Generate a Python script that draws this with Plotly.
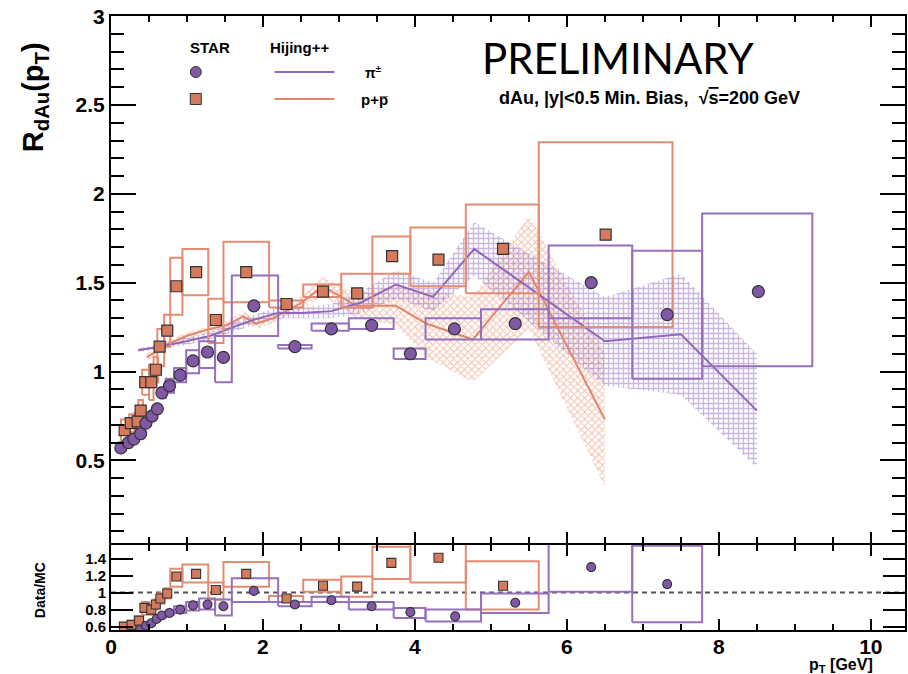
import plotly.graph_objects as go

# ---------------- data ----------------
# STAR pions, main panel
pi_pt   = [0.13, 0.23, 0.30, 0.39, 0.46, 0.54, 0.61, 0.67, 0.77, 0.91, 1.08, 1.27, 1.48, 1.88, 2.42, 2.90, 3.43, 3.94, 4.52, 5.32, 6.32, 7.32, 8.52]
pi_R    = [0.57, 0.60, 0.62, 0.65, 0.71, 0.75, 0.79, 0.88, 0.92, 0.98, 1.06, 1.11, 1.08, 1.37, 1.14, 1.24, 1.26, 1.10, 1.24, 1.27, 1.50, 1.32, 1.45]
pi_binlo = [0.10, 0.19, 0.27, 0.35, 0.43, 0.50, 0.58, 0.64, 0.72, 0.83, 0.99, 1.16, 1.37, 1.59, 2.20, 2.64, 3.13, 3.72, 4.14, 4.87, 5.76, 6.86, 7.78]
pi_binhi = [0.17, 0.27, 0.34, 0.43, 0.50, 0.58, 0.64, 0.72, 0.83, 0.99, 1.16, 1.37, 1.59, 2.20, 2.64, 3.13, 3.72, 4.14, 4.87, 5.76, 6.86, 7.78, 9.23]
pi_syslo = [0.55, 0.58, 0.60, 0.63, 0.69, 0.73, 0.77, 0.85, 0.88, 0.94, 0.99, 1.02, 0.94, 1.20, 1.13, 1.23, 1.24, 1.07, 1.18, 1.18, 1.30, 0.96, 1.03]
pi_syshi = [0.59, 0.62, 0.64, 0.67, 0.73, 0.77, 0.81, 0.91, 0.96, 1.02, 1.12, 1.17, 1.20, 1.54, 1.15, 1.27, 1.30, 1.13, 1.30, 1.35, 1.71, 1.68, 1.89]

# STAR protons, main panel
p_pt    = [0.18, 0.26, 0.35, 0.39, 0.45, 0.53, 0.59, 0.64, 0.74, 0.86, 1.12, 1.38, 1.78, 2.31, 2.79, 3.24, 3.70, 4.31, 5.16, 6.51]
p_R     = [0.67, 0.71, 0.72, 0.78, 0.94, 0.94, 1.01, 1.14, 1.23, 1.48, 1.56, 1.29, 1.56, 1.38, 1.45, 1.44, 1.65, 1.63, 1.69, 1.77]
p_binlo = [0.13, 0.24, 0.31, 0.36, 0.41, 0.50, 0.56, 0.61, 0.70, 0.78, 0.94, 1.28, 1.48, 2.08, 2.53, 3.03, 3.44, 3.94, 4.67, 5.63]
p_binhi = [0.24, 0.31, 0.36, 0.42, 0.50, 0.56, 0.62, 0.70, 0.78, 0.94, 1.28, 1.48, 2.08, 2.53, 3.03, 3.44, 3.94, 4.67, 5.63, 7.39]
p_syslo = [0.61, 0.66, 0.67, 0.72, 0.87, 0.84, 0.94, 1.03, 1.14, 1.32, 1.43, 1.16, 1.39, 1.36, 1.42, 1.36, 1.55, 1.48, 1.44, 1.25]
p_syshi = [0.73, 0.76, 0.77, 0.84, 1.01, 1.04, 1.08, 1.24, 1.32, 1.64, 1.69, 1.41, 1.73, 1.40, 1.49, 1.55, 1.76, 1.81, 1.94, 2.29]

# Hijing++ curves with uncertainty bands
mc_pi_pt = [0.36, 0.64, 0.99, 1.30, 1.61, 1.87, 2.20, 2.50, 2.90, 3.30, 3.75, 4.24, 4.78, 6.50, 7.50, 8.50]
mc_pi_R  = [1.12, 1.14, 1.17, 1.20, 1.25, 1.29, 1.33, 1.33, 1.34, 1.39, 1.49, 1.42, 1.69, 1.17, 1.21, 0.78]
mc_pi_err = [0.01, 0.015, 0.02, 0.02, 0.025, 0.03, 0.03, 0.03, 0.04, 0.06, 0.08, 0.08, 0.15, 0.25, 0.34, 0.32]

mc_p_pt = [0.47, 0.73, 0.99, 1.30, 1.52, 1.74, 1.91, 2.13, 2.48, 2.79, 3.23, 3.75, 4.15, 4.76, 5.50, 6.50]
mc_p_R  = [1.08, 1.15, 1.20, 1.24, 1.26, 1.31, 1.27, 1.30, 1.38, 1.48, 1.37, 1.37, 1.27, 1.18, 1.56, 0.73]
mc_p_err = [0.02, 0.02, 0.02, 0.02, 0.025, 0.03, 0.03, 0.03, 0.04, 0.05, 0.07, 0.11, 0.19, 0.24, 0.32, 0.38]

# Data / MC ratio panel
rp_pt    = [0.17, 0.27, 0.37, 0.44, 0.53, 0.59, 0.65, 0.74, 0.86, 1.12, 1.38, 1.78, 2.31, 2.79, 3.24, 3.69, 4.31, 5.16]
rp_val   = [0.60, 0.62, 0.67, 0.82, 0.80, 0.86, 0.93, 0.99, 1.19, 1.22, 1.03, 1.22, 0.93, 1.08, 1.07, 1.35, 1.41, 1.08]
rp_binlo = [0.13, 0.24, 0.31, 0.41, 0.50, 0.56, 0.61, 0.70, 0.78, 0.94, 1.28, 1.48, 2.08, 2.53, 3.03, 3.44, 3.94, 4.67]
rp_binhi = [0.24, 0.31, 0.42, 0.50, 0.56, 0.62, 0.70, 0.78, 0.94, 1.28, 1.48, 2.08, 2.53, 3.03, 3.44, 3.94, 4.67, 5.63]
rp_syslo = [0.56, 0.58, 0.62, 0.74, 0.74, 0.80, 0.87, 0.93, 1.07, 1.12, 0.92, 1.07, 0.89, 1.01, 0.95, 1.16, 1.12, 0.80]
rp_syshi = [0.64, 0.66, 0.72, 0.89, 0.86, 0.92, 0.99, 1.05, 1.28, 1.33, 1.12, 1.36, 0.96, 1.15, 1.19, 1.54, 1.70, 1.37]

rpi_pt    = [0.38, 0.46, 0.53, 0.60, 0.67, 0.77, 0.91, 1.08, 1.27, 1.48, 1.88, 2.42, 2.90, 3.43, 3.94, 4.53, 5.32, 6.32, 7.32]
rpi_val   = [0.56, 0.61, 0.64, 0.69, 0.73, 0.76, 0.80, 0.85, 0.86, 0.84, 1.02, 0.86, 0.91, 0.84, 0.77, 0.72, 0.88, 1.30, 1.10]
rpi_binlo = [0.35, 0.43, 0.50, 0.58, 0.64, 0.72, 0.83, 0.99, 1.16, 1.37, 1.59, 2.20, 2.64, 3.13, 3.72, 4.14, 4.87, 5.76, 6.86]
rpi_binhi = [0.43, 0.50, 0.58, 0.64, 0.72, 0.83, 0.99, 1.16, 1.37, 1.59, 2.20, 2.64, 3.13, 3.72, 4.14, 4.87, 5.76, 6.86, 7.78]
rpi_syslo = [0.54, 0.59, 0.62, 0.67, 0.71, 0.74, 0.76, 0.79, 0.80, 0.73, 0.89, 0.84, 0.89, 0.80, 0.70, 0.66, 0.76, 1.01, 0.65]
rpi_syshi = [0.58, 0.63, 0.66, 0.71, 0.75, 0.79, 0.84, 0.89, 0.93, 0.92, 1.17, 0.89, 0.95, 0.89, 0.82, 0.80, 0.99, 1.59, 1.55]

x_ticks = [0, 2, 4, 6, 8, 10]
ratio_ticks = [0.6, 0.8, 1.0, 1.2, 1.4]
ratio_ticktext = ["0.6", "0.8", "1", "1.2", "1.4"]

# ---------------- style ----------------
PURPLE_M = "#8058A5"
PURPLE_L = "#9670BE"
ORANGE_M = "#D67A5E"
ORANGE_L = "#E38C72"
FONT = "Liberation Sans, Arial, sans-serif"

W, H = 908, 674
L, R, T, B = 111, 1, 16, 44
PW, PH = W - L - R, H - T - B


def px(xp):
    return (xp - L) / PW


def py(yp):
    return (H - B - yp) / PH


def boxes(blo, bhi, ylo, yhi):
    xs, ys = [], []
    for a, b, c, d in zip(blo, bhi, ylo, yhi):
        xs += [a, b, b, a, a, None]
        ys += [c, c, d, d, c, None]
    return xs, ys


def band(x, v, e):
    up = [a + b for a, b in zip(v, e)]
    lo = [a - b for a, b in zip(v, e)]
    return list(x) + list(x)[::-1], up + lo[::-1]


fig = go.Figure()

# bands
bx, by = band(mc_p_pt, mc_p_R, mc_p_err)
fig.add_trace(go.Scatter(x=bx, y=by, xaxis="x2", yaxis="y2", mode="lines", fill="toself",
                         line=dict(width=0), fillcolor="rgba(0,0,0,0)",
                         fillpattern=dict(shape="x", fgcolor="#E8906F", bgcolor="rgba(0,0,0,0)",
                                          size=5, solidity=0.4),
                         hoverinfo="skip", showlegend=False))
bx, by = band(mc_pi_pt, mc_pi_R, mc_pi_err)
fig.add_trace(go.Scatter(x=bx, y=by, xaxis="x2", yaxis="y2", mode="lines", fill="toself",
                         line=dict(width=0), fillcolor="rgba(0,0,0,0)",
                         fillpattern=dict(shape="+", fgcolor="#9570C0", bgcolor="rgba(0,0,0,0)",
                                          size=5, solidity=0.45),
                         hoverinfo="skip", showlegend=False))

# MC lines
fig.add_trace(go.Scatter(x=mc_p_pt, y=mc_p_R, xaxis="x2", yaxis="y2", mode="lines",
                         line=dict(color="#E0866A", width=2), showlegend=False))
fig.add_trace(go.Scatter(x=mc_pi_pt, y=mc_pi_R, xaxis="x2", yaxis="y2", mode="lines",
                         line=dict(color="#9066BA", width=2), showlegend=False))

# systematic boxes main
bx, by = boxes(p_binlo, p_binhi, p_syslo, p_syshi)
fig.add_trace(go.Scatter(x=bx, y=by, xaxis="x2", yaxis="y2", mode="lines",
                         line=dict(color=ORANGE_L, width=2), showlegend=False))
bx, by = boxes(pi_binlo, pi_binhi, pi_syslo, pi_syshi)
fig.add_trace(go.Scatter(x=bx, y=by, xaxis="x2", yaxis="y2", mode="lines",
                         line=dict(color=PURPLE_L, width=2), showlegend=False))

# markers main
fig.add_trace(go.Scatter(x=p_pt, y=p_R, xaxis="x2", yaxis="y2", mode="markers",
                         marker=dict(symbol="square", size=11, color=ORANGE_M,
                                     line=dict(color="#333333", width=1.2)), showlegend=False))
fig.add_trace(go.Scatter(x=pi_pt, y=pi_R, xaxis="x2", yaxis="y2", mode="markers",
                         marker=dict(symbol="circle", size=12, color=PURPLE_M,
                                     line=dict(color="#333333", width=1.2)), showlegend=False))

# ratio boxes
bx, by = boxes(rp_binlo, rp_binhi, rp_syslo, rp_syshi)
fig.add_trace(go.Scatter(x=bx, y=by, xaxis="x", yaxis="y", mode="lines",
                         line=dict(color=ORANGE_L, width=2), showlegend=False))
bx, by = boxes(rpi_binlo, rpi_binhi, rpi_syslo, rpi_syshi)
fig.add_trace(go.Scatter(x=bx, y=by, xaxis="x", yaxis="y", mode="lines",
                         line=dict(color=PURPLE_L, width=2), showlegend=False))
fig.add_trace(go.Scatter(x=rp_pt, y=rp_val, xaxis="x", yaxis="y", mode="markers",
                         marker=dict(symbol="square", size=9, color=ORANGE_M,
                                     line=dict(color="#333333", width=1.1)), showlegend=False))
fig.add_trace(go.Scatter(x=rpi_pt, y=rpi_val, xaxis="x", yaxis="y", mode="markers",
                         marker=dict(symbol="circle", size=9, color=PURPLE_M,
                                     line=dict(color="#333333", width=1.1)), showlegend=False))

common_x = dict(range=[0, 10.45], tickvals=x_ticks, ticks="inside", ticklen=11, tickwidth=2,
                tickcolor="black", showline=True, linewidth=2, linecolor="black",
                mirror="allticks", showgrid=False, zeroline=False,
                minor=dict(dtick=0.5, tick0=0, ticks="inside", ticklen=6, tickwidth=2,
                           tickcolor="black", showgrid=False))

fig.update_layout(
    width=W, height=H,
    margin=dict(l=L, r=R, t=T, b=B),
    paper_bgcolor="white", plot_bgcolor="white",
    showlegend=False,
    font=dict(family=FONT, color="black"),
    xaxis=dict(domain=[0, 1], anchor="y", **common_x, ticklabelstandoff=-3,
               tickfont=dict(family=FONT, size=21, weight="bold", color="black")),
    xaxis2=dict(domain=[0, 1], anchor="y2", matches="x", showticklabels=False, **common_x),
    yaxis=dict(domain=[0, py(545)], anchor="x", range=[0.56, 1.56],
               tickvals=ratio_ticks, ticktext=ratio_ticktext,
               ticks="inside", ticklen=22, tickwidth=2, tickcolor="black",
               showline=True, linewidth=2, linecolor="black", mirror="allticks",
               showgrid=False, zeroline=False,
               tickfont=dict(family=FONT, size=15, weight="bold", color="black")),
    yaxis2=dict(domain=[py(543), 1], anchor="x2", range=[0.035, 3.001],
                dtick=0.5, tick0=0, ticks="inside", ticklen=25, tickwidth=2, tickcolor="black",
                showline=True, linewidth=2, linecolor="black", mirror="allticks",
                showgrid=False, zeroline=False,
                tickfont=dict(family=FONT, size=21, weight="bold", color="black"),
                minor=dict(dtick=0.1, tick0=0, ticks="inside", ticklen=13, tickwidth=2,
                           tickcolor="black", showgrid=False)),
)

# dashed unity line in ratio
fig.add_shape(type="line", xref="x domain", yref="y", x0=0, x1=1, y0=1, y1=1,
              line=dict(color="#555555", width=2, dash="5px,4px"), layer="below")

# legend decorations
fig.add_shape(type="circle", xref="paper", yref="paper",
              x0=px(190.5), x1=px(201.5), y0=py(77.5), y1=py(66.5),
              fillcolor=PURPLE_M, line=dict(color="#333333", width=1))
fig.add_shape(type="rect", xref="paper", yref="paper",
              x0=px(190.5), x1=px(201.5), y0=py(104.5), y1=py(93.5),
              fillcolor=ORANGE_M, line=dict(color="#333333", width=1))
fig.add_shape(type="line", xref="paper", yref="paper",
              x0=px(275), x1=px(335), y0=py(72), y1=py(72),
              line=dict(color="#9066BA", width=2))
fig.add_shape(type="line", xref="paper", yref="paper",
              x0=px(275), x1=px(335), y0=py(99), y1=py(99),
              line=dict(color="#E0866A", width=2))

ann = [
    dict(text="<b>STAR</b>", x=px(210), y=py(47), size=15),
    dict(text="<b>Hijing++</b>", x=px(300), y=py(47), size=15),
    dict(text="<b>π<sup>±</sup></b>", x=px(374), y=py(72), size=14),
    dict(text="<b>p+p\u0305</b>", x=px(376), y=py(100), size=15),
    dict(text="<b>dAu, |y|&lt;0.5 Min. Bias,\u00a0\u00a0√<span style='text-decoration:overline'>s</span>=200 GeV</b>",
         x=px(651), y=py(98), size=18),
    dict(text="<b>p<sub>T</sub> [GeV]</b>", x=px(843), y=py(665), size=16),
]
for a in ann:
    fig.add_annotation(text=a["text"], x=a["x"], y=a["y"], xref="paper", yref="paper",
                       showarrow=False, xanchor="center", yanchor="middle",
                       font=dict(family=FONT, size=a["size"], color="black"))

fig.add_annotation(text="PRELIMINARY", x=px(620), y=py(58), xref="paper", yref="paper",
                   showarrow=False, xanchor="center", yanchor="middle",
                   font=dict(family="Liberation Sans Narrow, Lato, sans-serif", size=42, color="black"))
fig.add_annotation(text="<b>R<sub>dAu</sub>(p<sub>T</sub>)</b>", x=px(35), y=py(97),
                   xref="paper", yref="paper", showarrow=False, textangle=-90,
                   xanchor="center", yanchor="middle",
                   font=dict(family=FONT, size=29, color="black"))
fig.add_annotation(text="<b>Data/MC</b>", x=px(40), y=py(590),
                   xref="paper", yref="paper", showarrow=False, textangle=-90,
                   xanchor="center", yanchor="middle",
                   font=dict(family=FONT, size=14, color="black"))

fig.write_html("out.html", config={"displayModeBar": False},
               post_script="document.body.style.margin='0';document.body.style.overflow='hidden';")
